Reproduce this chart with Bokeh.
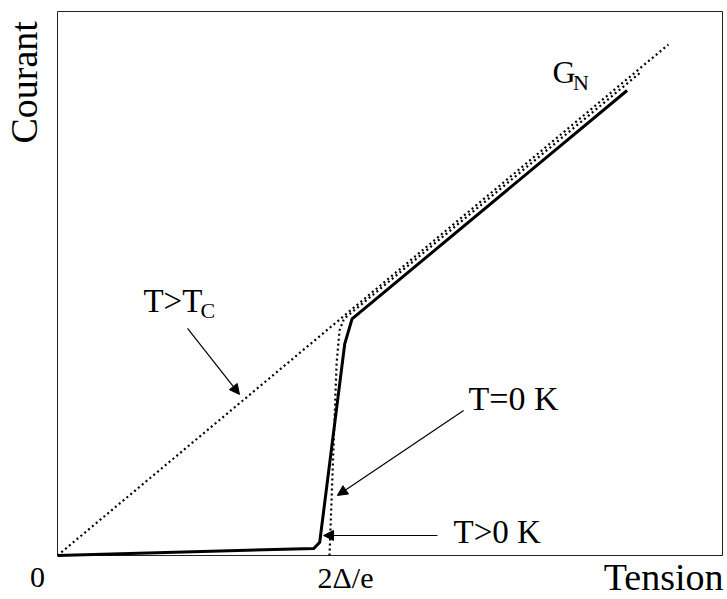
import math
from bokeh.plotting import figure
from bokeh.models import Range1d, Label, Arrow, NormalHead
from bokeh.embed import file_html
from bokeh.resources import INLINE

# ---- data (voltage in units of 2Δ/e, current in units of G_N·2Δ/e) ----
gn_v = [0.0, 2.246]                      # normal-state ohmic line (T > Tc)
gn_i = [0.0, 2.246]
t0_v = [1.0, 1.026, 1.037, 1.053, 2.143]  # T = 0 K characteristic
t0_i = [0.0, 0.844, 0.990, 1.040, 2.123]
tp_v = [0.0, 0.942, 0.964, 1.056, 1.083, 2.094]  # T > 0 K characteristic
tp_i = [0.0, 0.031, 0.058, 0.931, 1.040, 2.044]

# extent of the boxed plotting area
v_max = 2.4449
i_max = 2.3912

tick_vals = [0.0, 1.0]
tick_text = ["0", "2Δ/e"]
x_label = "Tension"
y_label = "Courant"

# annotations: (text, subscript)
ann_tc = ("T>T", "C")
ann_gn = ("G", "N")
ann_t0 = "T=0 K"
ann_tp = "T>0 K"

# arrows: start -> end (data units)
arr_tc = (0.478, 0.998, 0.669, 0.708)
arr_t0 = (1.493, 0.637, 1.029, 0.264)
arr_tp = (1.397, 0.088, 0.978, 0.088)

FONT = "Liberation Serif"

p = figure(width=727, height=599, output_backend="svg", toolbar_location=None,
           x_range=Range1d(-0.2096, 2.4632), y_range=Range1d(-0.1934, 2.4396),
           x_axis_location=None, y_axis_location=None,
           min_border=0)
p.grid.visible = False
p.outline_line_color = None
p.background_fill_color = "white"
p.border_fill_color = "white"

# box around the plotting area
p.quad(left=[0.0], right=[v_max], bottom=[0.0], top=[i_max],
       fill_color=None, line_color="#222222", line_width=1)

p.line(gn_v, gn_i, line_color="black", line_width=2.2, line_dash="2 3")
p.line(t0_v, t0_i, line_color="black", line_width=2.2, line_dash="2 3")
p.line(tp_v, tp_i, line_color="black", line_width=3, line_join="miter")

for (xs, ys, xe, ye) in (arr_tc, arr_t0, arr_tp):
    p.add_layout(Arrow(end=NormalHead(size=10, fill_color="black", line_color="black", line_width=1),
                       x_start=xs, y_start=ys, x_end=xe, y_end=ye,
                       line_color="black", line_width=1.2))

def lab(text, x, y, size, align="left", angle=0.0, x_offset=0):
    p.add_layout(Label(text=text, x=x, y=y, x_offset=x_offset, text_font=FONT,
                       text_font_size=size, text_color="black", text_align=align,
                       text_baseline="alphabetic", angle=angle))

# annotations
lab(ann_tc[0], 0.316, 1.120, "33px")
lab(ann_tc[1], 0.526, 1.077, "22px")
lab(ann_gn[0], 1.820, 2.126, "32px")
lab(ann_gn[1], 1.895, 2.079, "22px")
lab(ann_t0, 1.511, 0.691, "34px")
lab(ann_tp, 1.456, 0.105, "33px")

# tick labels
tick_offsets = [-20, 16]
for v, t, off in zip(tick_vals, tick_text, tick_offsets):
    lab(t, v, -0.098, "30px", align="center", x_offset=off)

# axis titles
lab(x_label, v_max, -0.093, "38px", align="right", x_offset=1)
lab(y_label, -0.125, 1.811, "38px", align="left", angle=math.pi / 2)

open("out.html", "w").write(file_html(p, INLINE))
